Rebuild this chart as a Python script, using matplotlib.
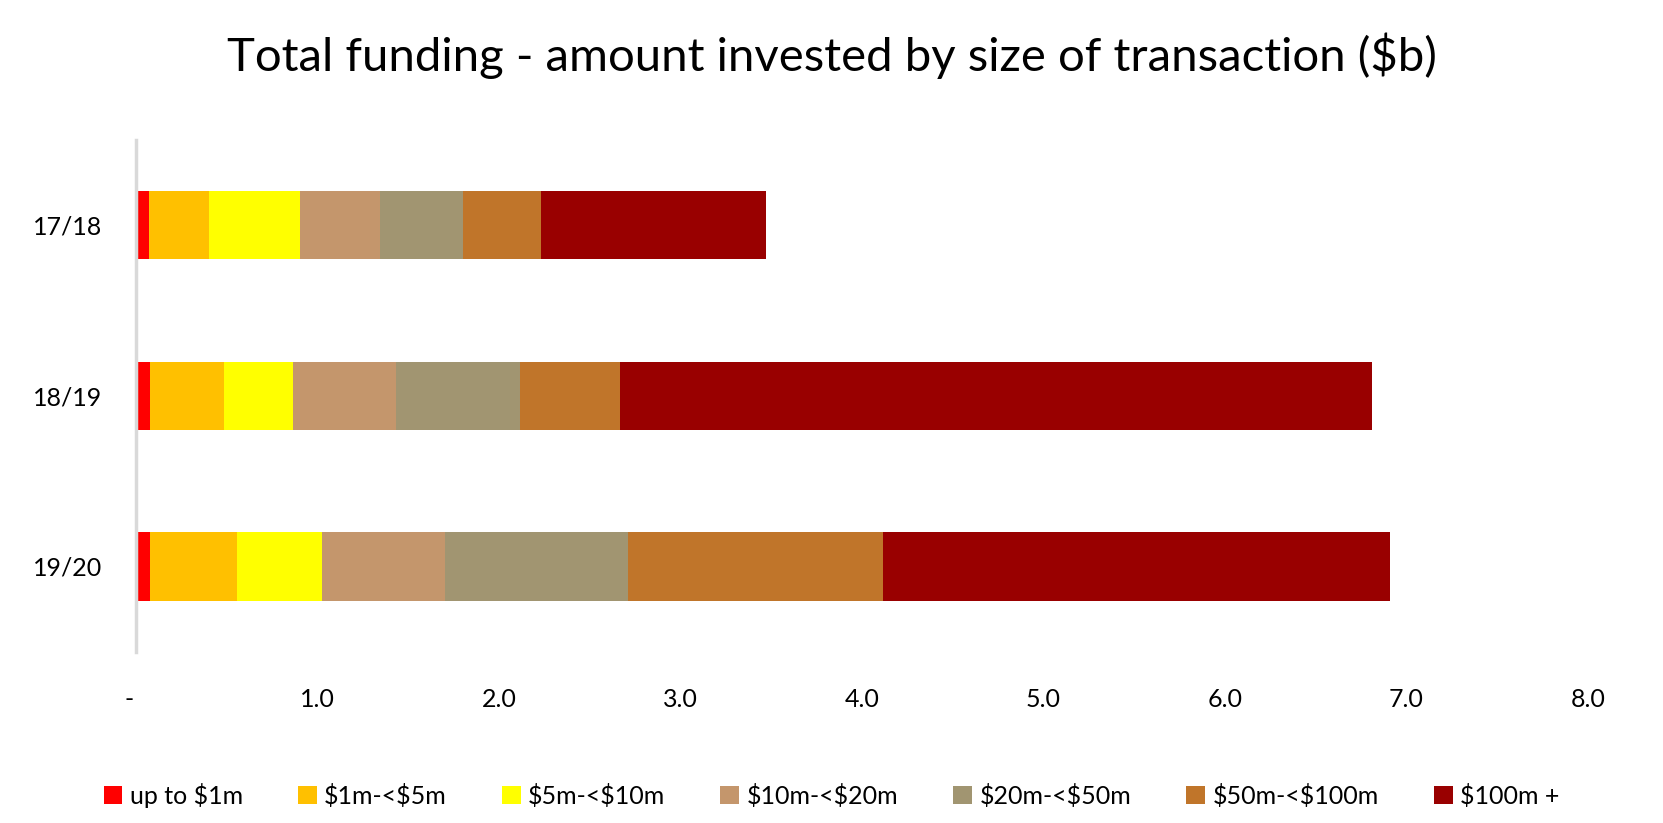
import matplotlib
matplotlib.use('Agg')

import matplotlib.pyplot as plt
import numpy as np

periods = ['17/18', '18/19', '19/20']
labels = [r'up to \$1m', r'\$1m-<\$5m', r'\$5m-<\$10m', r'\$10m-<\$20m',
          r'\$20m-<\$50m', r'\$50m-<\$100m', r'\$100m +']
colors = ['#FF0000', '#FFC000', '#FFFF00', '#C4966C',
          '#A19571', '#C0752A', '#990000']

# amount invested ($b) per size band, one list per period
values_1718 = [0.072, 0.330, 0.502, 0.439, 0.460, 0.428, 1.241]
values_1819 = [0.077, 0.408, 0.380, 0.566, 0.686, 0.550, 4.145]
values_1920 = [0.077, 0.479, 0.469, 0.679, 1.008, 1.405, 2.794]

x_ticks = [0, 1, 2, 3, 4, 5, 6, 7, 8]
x_tick_labels = ['-  ', '1.0', '2.0', '3.0', '4.0', '5.0', '6.0', '7.0', '8.0']


def draw():
    plt.rcParams['font.family'] = ['Lato', 'DejaVu Sans']

    fig = plt.figure(figsize=(16.63, 8.23), dpi=100)
    ax = fig.add_axes([0.0818, 0.208, 0.873, 0.622])

    data = np.array([values_1718, values_1819, values_1920])
    y = np.arange(len(periods))
    left = np.zeros(len(periods))

    for i in range(len(labels)):
        ax.barh(y, data[:, i], height=0.4, left=left,
                color=colors[i], label=labels[i])
        left += data[:, i]

    ax.set_ylim(2.5, -0.5)
    ax.set_xlim(0, 8)
    ax.set_xticks(x_ticks)
    ax.set_xticklabels(x_tick_labels)
    ax.set_yticks(y)
    ax.set_yticklabels(periods)
    ax.tick_params(axis='both', length=0, labelsize=18, colors='black')
    ax.tick_params(axis='x', pad=26)
    ax.tick_params(axis='y', pad=24)

    for side in ['top', 'right', 'bottom']:
        ax.spines[side].set_visible(False)
    ax.spines['left'].set_color('#D9D9D9')
    ax.spines['left'].set_linewidth(2.5)

    fig.suptitle(r'Total funding - amount invested by size of transaction (\$b)',
                 fontsize=34, x=0.5, y=0.96)

    fig.legend(loc='center', bbox_to_anchor=(0.5, 0.034), ncol=7,
               frameon=False, fontsize=18, handlelength=0.75,
               handleheight=0.75, handletextpad=0.3, columnspacing=2.2)

    fig.savefig('out.png', dpi=100)


if __name__ == "__main__":
    draw()
